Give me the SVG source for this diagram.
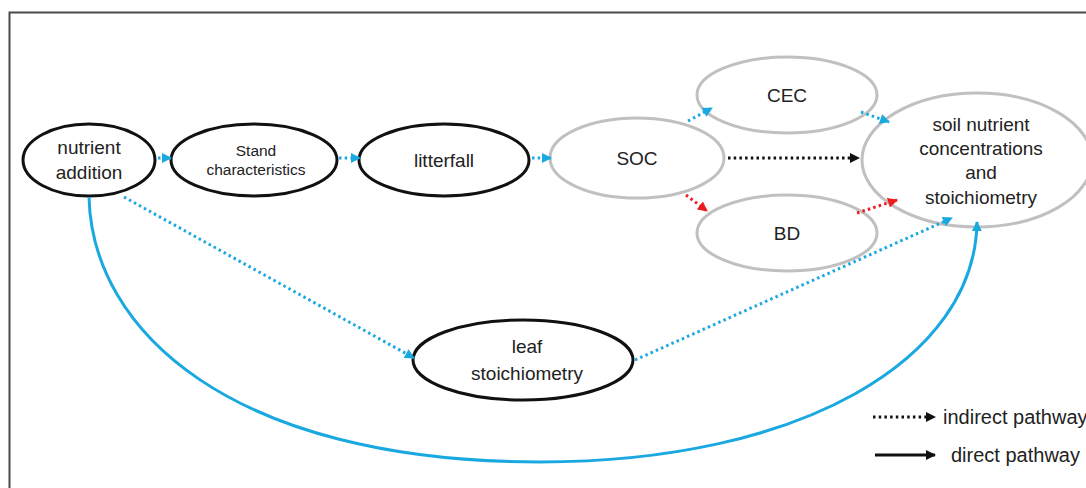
<svg xmlns="http://www.w3.org/2000/svg" width="1086" height="488" viewBox="0 0 1086 488">
<defs>
<style>
.txt{font-family:"Liberation Sans",Arial,sans-serif;font-size:19px;fill:#222;text-anchor:middle;dominant-baseline:central}
.small{font-size:15.5px}
.blk{fill:#fff;stroke:#111;stroke-width:3}
.gry{fill:#fff;stroke:#c0c0c0;stroke-width:3}
.dot{fill:none;stroke-width:3;stroke-dasharray:2.5 3.2}
.blue{stroke:#1aa8e0}
.red{stroke:#ee1c1c}
.black{stroke:#111}
</style>
<marker id="ab" viewBox="0 0 10 10" refX="9" refY="5" markerWidth="11" markerHeight="10" markerUnits="userSpaceOnUse" orient="auto"><path d="M0,0 L10,5 L0,10 z" fill="#1aa8e0"/></marker>
<marker id="ar" viewBox="0 0 10 10" refX="9" refY="5" markerWidth="11" markerHeight="10" markerUnits="userSpaceOnUse" orient="auto"><path d="M0,0 L10,5 L0,10 z" fill="#ee1c1c"/></marker>
<marker id="ak" viewBox="0 0 10 10" refX="9" refY="5" markerWidth="11" markerHeight="10" markerUnits="userSpaceOnUse" orient="auto"><path d="M0,0 L10,5 L0,10 z" fill="#111"/></marker>
</defs>
<rect width="1086" height="488" fill="#fff"/>
<path d="M9.5,488 V12.5 H1086" fill="none" stroke="#4a4a4a" stroke-width="2"/>

<g id="n-nutrient">
<ellipse class="blk" cx="89" cy="160" rx="66" ry="36"/>
<text class="txt" x="89" y="147">nutrient</text>
<text class="txt" x="89" y="172">addition</text>
</g>
<g id="n-stand">
<ellipse class="blk" cx="254" cy="160" rx="83" ry="36"/>
<text class="txt small" x="256" y="150">Stand</text>
<text class="txt small" x="256" y="169">characteristics</text>
</g>
<g id="n-litterfall">
<ellipse class="blk" cx="444" cy="160" rx="85" ry="36"/>
<text class="txt" x="444" y="160">litterfall</text>
</g>
<g id="n-soc">
<ellipse class="gry" cx="637" cy="158" rx="87" ry="40"/>
<text class="txt" x="637" y="158">SOC</text>
</g>
<g id="n-cec">
<ellipse class="gry" cx="787" cy="95" rx="90" ry="38"/>
<text class="txt" x="787" y="95">CEC</text>
</g>
<g id="n-bd">
<ellipse class="gry" cx="787" cy="233" rx="90" ry="38"/>
<text class="txt" x="787" y="233">BD</text>
</g>
<g id="n-soil">
<ellipse class="gry" cx="977" cy="160" rx="115" ry="67"/>
<text class="txt" x="981" y="124">soil nutrient</text>
<text class="txt" x="981" y="148">concentrations</text>
<text class="txt" x="981" y="172">and</text>
<text class="txt" x="981" y="197">stoichiometry</text>
</g>
<g id="n-leaf">
<ellipse class="blk" cx="523" cy="360" rx="110" ry="40"/>
<text class="txt" x="527" y="346">leaf</text>
<text class="txt" x="527" y="373">stoichiometry</text>
</g>

<g id="connectors">
<line class="dot blue" x1="158" y1="158" x2="171" y2="158" marker-end="url(#ab)"/>
<line class="dot blue" x1="339" y1="158" x2="360" y2="158" marker-end="url(#ab)"/>
<line class="dot blue" x1="532" y1="158" x2="551" y2="158" marker-end="url(#ab)"/>
<line class="dot blue" x1="688" y1="121" x2="712" y2="108" marker-end="url(#ab)"/>
<line class="dot blue" x1="861" y1="112" x2="889" y2="122" marker-end="url(#ab)"/>
<line class="dot black" x1="728" y1="158" x2="859" y2="158" marker-end="url(#ak)"/>
<line class="dot red" x1="686" y1="195" x2="707" y2="211" marker-end="url(#ar)"/>
<line class="dot red" x1="857" y1="213" x2="897" y2="200" marker-end="url(#ar)"/>
<line class="dot blue" x1="124" y1="197" x2="414" y2="358" marker-end="url(#ab)"/>
<line class="dot blue" x1="635" y1="360" x2="952" y2="218" marker-end="url(#ab)"/>
<path d="M89,197 C92,330 230,462 540,462 C800,462 975,360 977,222" fill="none" stroke="#1aa8e0" stroke-width="3" marker-end="url(#ab)"/>
</g>

<g id="legend">
<line class="dot black" x1="873" y1="417" x2="935" y2="417" marker-end="url(#ak)"/>
<text class="txt" x="943" y="417" style="text-anchor:start;font-size:20px">indirect pathway</text>
<line x1="875" y1="455" x2="935" y2="455" stroke="#111" stroke-width="3" marker-end="url(#ak)"/>
<text class="txt" x="951" y="455" style="text-anchor:start;font-size:20px">direct pathway</text>
</g>
</svg>
